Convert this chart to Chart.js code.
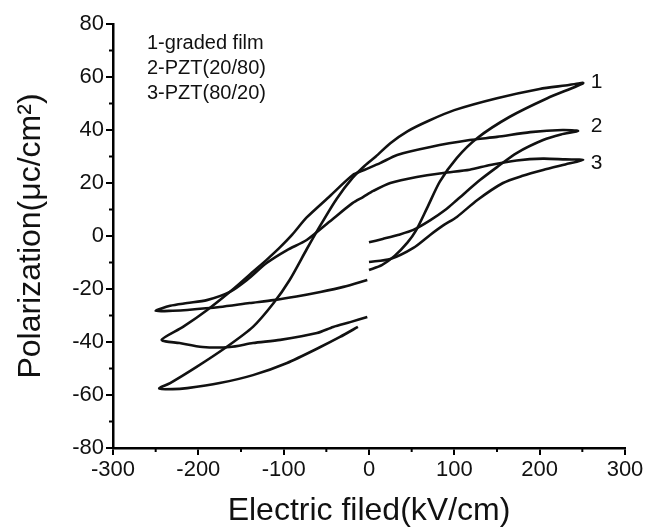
<!DOCTYPE html>
<html>
<head>
<meta charset="utf-8">
<script src="https://cdn.jsdelivr.net/npm/chart.js@4.4.1/dist/chart.umd.min.js"></script>
<style>
    html, body { margin: 0; padding: 0; background: #fff; }
    canvas { display: block; }
</style>
</head>
<body>
<canvas id="loops" width="658" height="532"></canvas>
<script>
// field (kV/cm) and polarization (uC/cm2), loop order:
// initial branch 0 -> +Emax, descending branch, then ascending branch back to ~0
const gradedE = [0, 15, 30, 45, 55, 68, 83, 103, 127, 165, 209, 251,
    230, 200, 150, 100, 70, 45, 25, 8, -5, -19, -38, -57, -73, -93, -112, -136, -167, -202, -233, -246,
    -230, -213, -175, -136, -96, -57, -34, -13];
const gradedP = [-12.8, -11, -7.5, -2.5, 2, 10.5, 20.5, 29.5, 37, 45, 52, 57.7,
    56.8, 55.5, 52, 47.5, 43.5, 39.5, 35, 30, 26.5, 22, 14, 4, -5, -16.6, -25.4, -34.3, -41.9, -49.4, -55.5, -57.5,
    -57.8, -57.4, -55.5, -52.5, -47.9, -41.9, -38.1, -34.3];

const pzt2080E = [0, 16, 35, 52, 72, 90, 103, 130, 150, 173, 204, 225, 245,
    227, 189, 150, 118, 72, 33, 13, -5, -19, -46, -73, -90, -105, -120, -136, -159, -190, -218, -243,
    -222, -195, -163, -136, -104, -61, -42, -22, -2];
const pzt2080P = [-2.4, -1.1, 0.5, 2.3, 6, 10, 13.6, 21.1, 26, 31.3, 36.2, 38.3, 39.6,
    40, 39.2, 37.4, 36.2, 33.6, 30.6, 27.5, 25, 23, 15, 7, 0.5, -4.5, -9, -13.5, -20, -28, -34.3, -39.2,
    -40.4, -41.9, -41.9, -40.4, -39.2, -36.6, -34.3, -32.5, -30.6];

const pzt8020E = [0, 25, 52, 72, 87, 103, 127, 157, 180, 204, 230, 251,
    230, 204, 173, 142, 118, 87, 56, 25, 5, -7, -19, -46, -73, -96, -120, -143, -163, -190, -213, -233, -250,
    -230, -213, -175, -140, -112, -85, -57, -30, -2];
const pzt8020P = [-9.8, -8.7, -4.5, 0.5, 4, 7.2, 13.6, 20, 22.7, 24.9, 27, 28.7,
    28.9, 29.2, 28.5, 26.8, 25, 23.8, 22.3, 20, 17, 14.7, 12.5, 5.5, -1.5, -5.3, -10.2, -16.6, -21.1, -24.2, -25.3, -26.3, -28.3,
    -28.2, -27.9, -26.8, -25.3, -24.2, -22.8, -21.1, -19.2, -16.6];

const legendLines = ['1-graded film', '2-PZT(20/80)', '3-PZT(80/20)'];
const curveTags = ['1', '2', '3'];
const tagE = [260, 260, 260];
const tagP = [58.1, 41.5, 27.5];

const FONT = "'Liberation Sans', Arial, Helvetica, sans-serif";

function pts(xs, ys) {
    return xs.map((x, i) => ({ x: x, y: ys[i] }));
}

function loop(xs, ys) {
    return {
        data: pts(xs, ys),
        showLine: true,
        borderColor: '#111',
        borderWidth: 2.6,
        pointRadius: 0,
        tension: 0.25,
        fill: false
    };
}

// minor ticks, legend text and the 1/2/3 tags
const extras = {
    id: 'extras',
    afterDraw(chart) {
        const ctx = chart.ctx;
        const xs = chart.scales.x, ys = chart.scales.y;
        const area = chart.chartArea;
        ctx.save();
        ctx.strokeStyle = '#000';
        ctx.lineWidth = 2;
        for (let v = -250; v <= 250; v += 100) {
            const px = xs.getPixelForValue(v);
            ctx.beginPath();
            ctx.moveTo(px, area.bottom);
            ctx.lineTo(px, area.bottom + 4);
            ctx.stroke();
        }
        for (let v = -70; v <= 70; v += 20) {
            const py = ys.getPixelForValue(v);
            ctx.beginPath();
            ctx.moveTo(area.left, py);
            ctx.lineTo(area.left - 4, py);
            ctx.stroke();
        }

        ctx.fillStyle = '#111';
        ctx.font = '20px ' + FONT;
        ctx.textBaseline = 'middle';
        ctx.textAlign = 'left';
        legendLines.forEach((t, i) => {
            ctx.fillText(t, area.left + 34, 43 + i * 25);
        });

        ctx.font = '21px ' + FONT;
        curveTags.forEach((t, i) => {
            ctx.fillText(t, xs.getPixelForValue(tagE[i]), ys.getPixelForValue(tagP[i]));
        });
        ctx.restore();
    }
};

const axisFont = { family: FONT, size: 22 };

new Chart(document.getElementById('loops'), {
    type: 'scatter',
    data: {
        datasets: [
            loop(gradedE, gradedP),
            loop(pzt2080E, pzt2080P),
            loop(pzt8020E, pzt8020P)
        ]
    },
    options: {
        responsive: false,
        animation: false,
        layout: { padding: { top: 24, right: 33, left: 0, bottom: 0 } },
        plugins: {
            legend: { display: false },
            tooltip: { enabled: false }
        },
        scales: {
            x: {
                type: 'linear',
                min: -300,
                max: 300,
                afterFit: s => { s.height = 84; },
                ticks: { stepSize: 100, color: '#111', font: axisFont, padding: 2 },
                grid: { drawOnChartArea: false, drawTicks: true, tickLength: 7, color: '#000', lineWidth: 2 },
                border: { display: true, color: '#000', width: 2.5 },
                title: {
                    display: true,
                    text: 'Electric filed(kV/cm)',
                    color: '#111',
                    font: { family: FONT, size: 32, lineHeight: 1.2 },
                    padding: { top: 0, bottom: 2 }
                }
            },
            y: {
                type: 'linear',
                min: -80,
                max: 80,
                afterFit: s => { s.width = 113; },
                ticks: { stepSize: 20, color: '#111', font: axisFont, padding: 2 },
                grid: { drawOnChartArea: false, drawTicks: true, tickLength: 7, color: '#000', lineWidth: 2 },
                border: { display: true, color: '#000', width: 2.5 },
                title: {
                    display: true,
                    text: 'Polarization(\u03bcc/cm\u00b2)',
                    color: '#111',
                    font: { family: FONT, size: 32, lineHeight: 1.2 },
                    padding: { top: 12, bottom: 0 }
                }
            }
        }
    },
    plugins: [extras]
});
</script>
</body>
</html>
